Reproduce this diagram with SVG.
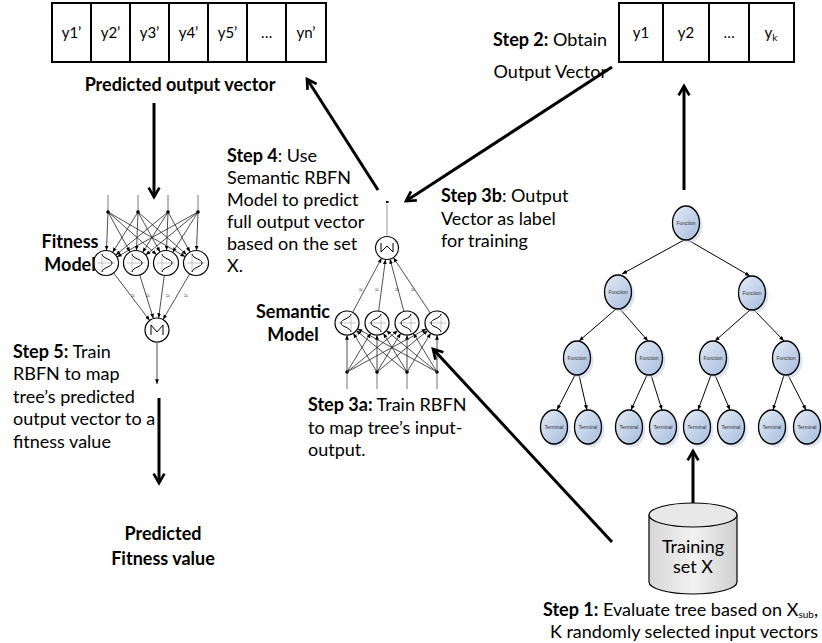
<svg xmlns="http://www.w3.org/2000/svg" width="822" height="643" viewBox="0 0 822 643">
<style>
  .t { font-family: Lato, "Liberation Sans", sans-serif; font-size: 18px; fill: #000; }
  .b { font-weight: bold; }
  .cell { fill: #fff; stroke: #000; stroke-width: 2; }
  .vt { font-family: Lato, "Liberation Sans", sans-serif; font-size: 15px; text-anchor: middle; }
  .thick { stroke: #000; stroke-width: 3; fill: none; marker-end: url(#bigArrow); }
  .thin { stroke: #222; stroke-width: 0.8; fill: none; marker-end: url(#smallArrow); }
  .thinplain { stroke: #555; stroke-width: 0.8; fill: none; }
  .neuron { fill: #fff; stroke: #000; stroke-width: 1.2; }
  .icon { fill: none; stroke: #000; stroke-width: 1; }
  .axis { fill: none; stroke: #888; stroke-width: 0.5; }
  .dot { fill: #000; }
  .wl { font-family: "Liberation Sans", sans-serif; font-size: 7px; text-anchor: middle; fill: #333; }
  .tn { fill: url(#nodeGrad); stroke: #000; stroke-width: 1.3; }
  .tsh { fill: #c8d4e8; opacity: 0.6; }
  .tl { font-family: "Liberation Sans", sans-serif; font-size: 5px; text-anchor: middle; fill: #333; }
  .te { stroke: #000; stroke-width: 1; fill: none; marker-end: url(#treeArrow); }
</style>
<defs>
  <marker id="bigArrow" viewBox="0 0 10 10" refX="8" refY="5" markerWidth="4.5" markerHeight="4.5" orient="auto" markerUnits="strokeWidth">
    <path d="M1,1 L8,5 L1,9" fill="none" stroke="#000" stroke-width="2"/>
  </marker>
  <marker id="smallArrow" viewBox="0 0 10 10" refX="10" refY="5" markerWidth="6" markerHeight="6" orient="auto" markerUnits="strokeWidth">
    <path d="M0,1 L10,5 L0,9 Z" fill="#000"/>
  </marker>
  <marker id="treeArrow" viewBox="0 0 10 10" refX="10" refY="5" markerWidth="5" markerHeight="5" orient="auto" markerUnits="strokeWidth">
    <path d="M0,1 L10,5 L0,9 Z" fill="#000"/>
  </marker>
  <linearGradient id="nodeGrad" x1="0" y1="0" x2="1" y2="1">
    <stop offset="0" stop-color="#e4ebf6"/>
    <stop offset="1" stop-color="#a6bcdd"/>
  </linearGradient>
  <linearGradient id="cylGrad" x1="0" y1="0" x2="1" y2="0">
    <stop offset="0" stop-color="#d6d6d6"/>
    <stop offset="0.5" stop-color="#f2f2f2"/>
    <stop offset="1" stop-color="#cfcfcf"/>
  </linearGradient>
</defs>

<!-- Predicted output vector -->
<g id="predicted-vector">
  <rect class="cell" x="52" y="3" width="39" height="59"/>
  <rect class="cell" x="91" y="3" width="39" height="59"/>
  <rect class="cell" x="130" y="3" width="39" height="59"/>
  <rect class="cell" x="169" y="3" width="39" height="59"/>
  <rect class="cell" x="208" y="3" width="39" height="59"/>
  <rect class="cell" x="247" y="3" width="39" height="59"/>
  <rect class="cell" x="286" y="3" width="40" height="59"/>
  <text class="vt" x="71.5" y="38">y1’</text>
  <text class="vt" x="110.5" y="38">y2’</text>
  <text class="vt" x="149.5" y="38">y3’</text>
  <text class="vt" x="188.5" y="38">y4’</text>
  <text class="vt" x="227.5" y="38">y5’</text>
  <text class="vt" x="266.5" y="38">…</text>
  <text class="vt" x="306" y="38">yn’</text>
  <text class="t b" x="180" y="91" text-anchor="middle" font-size="16">Predicted output vector</text>
</g>

<!-- Output vector -->
<g id="output-vector">
  <rect class="cell" x="619" y="3" width="44" height="59"/>
  <rect class="cell" x="663" y="3" width="46" height="59"/>
  <rect class="cell" x="709" y="3" width="40" height="59"/>
  <rect class="cell" x="749" y="3" width="45" height="59"/>
  <text class="vt" x="641" y="38">y1</text>
  <text class="vt" x="686" y="38">y2</text>
  <text class="vt" x="729" y="38">…</text>
  <text class="vt" x="771" y="38">y<tspan font-size="10" dy="3">k</tspan></text>
</g>

<g id="step2-label">
  <text class="t" x="607" y="46" text-anchor="end"><tspan class="b">Step 2:</tspan> Obtain</text>
  <text class="t" x="607" y="78" text-anchor="end">Output Vector</text>
</g>

<!-- Fitness model -->
<g id="fitness-model">
  <line class="thinplain" x1="108" y1="195" x2="108" y2="212"/>
  <line class="thinplain" x1="138" y1="195" x2="138" y2="212"/>
  <line class="thinplain" x1="168" y1="195" x2="168" y2="212"/>
  <line class="thinplain" x1="198" y1="195" x2="198" y2="212"/>
  <line class="thin" x1="108" y1="212" x2="106.5" y2="250.5"/>
  <line class="thin" x1="138" y1="212" x2="112.6" y2="252.4"/>
  <line class="thin" x1="168" y1="212" x2="115.7" y2="255.1"/>
  <line class="thin" x1="198" y1="212" x2="116.9" y2="256.9"/>
  <line class="thin" x1="108" y1="212" x2="130" y2="252"/>
  <line class="thin" x1="138" y1="212" x2="136.5" y2="250.5"/>
  <line class="thin" x1="168" y1="212" x2="142.6" y2="252.4"/>
  <line class="thin" x1="198" y1="212" x2="145.7" y2="255.1"/>
  <line class="thin" x1="108" y1="212" x2="156.6" y2="254.7"/>
  <line class="thin" x1="138" y1="212" x2="160" y2="252"/>
  <line class="thin" x1="168" y1="212" x2="166.5" y2="250.5"/>
  <line class="thin" x1="198" y1="212" x2="172.6" y2="252.4"/>
  <line class="thin" x1="108" y1="212" x2="185.2" y2="256.7"/>
  <line class="thin" x1="138" y1="212" x2="186.6" y2="254.7"/>
  <line class="thin" x1="168" y1="212" x2="190" y2="252"/>
  <line class="thin" x1="198" y1="212" x2="196.5" y2="250.5"/>
  <circle class="dot" cx="108" cy="212" r="1.8"/>
  <circle class="dot" cx="138" cy="212" r="1.8"/>
  <circle class="dot" cx="168" cy="212" r="1.8"/>
  <circle class="dot" cx="198" cy="212" r="1.8"/>
  <g>
    <circle class="neuron" cx="106" cy="263" r="12.5"/>
    <path class="axis" d="M97,263 H115 M102,254 V272"/>
    <path class="icon" d="M102,254 C103,259 112,259 112,263 C112,267 103,267 102,272"/>
  </g>
  <g>
    <circle class="neuron" cx="136" cy="263" r="12.5"/>
    <path class="axis" d="M127,263 H145 M132,254 V272"/>
    <path class="icon" d="M132,254 C133,259 142,259 142,263 C142,267 133,267 132,272"/>
  </g>
  <g>
    <circle class="neuron" cx="166" cy="263" r="12.5"/>
    <path class="axis" d="M157,263 H175 M162,254 V272"/>
    <path class="icon" d="M162,254 C163,259 172,259 172,263 C172,267 163,267 162,272"/>
  </g>
  <g>
    <circle class="neuron" cx="196" cy="263" r="12.5"/>
    <path class="axis" d="M187,263 H205 M192,254 V272"/>
    <path class="icon" d="M192,254 C193,259 202,259 202,263 C202,267 193,267 192,272"/>
  </g>
  <line class="thin" x1="113.6" y1="272.9" x2="149.7" y2="320.5"/>
  <line class="thin" x1="139.7" y1="274.9" x2="153.4" y2="318.5"/>
  <line class="thin" x1="164.3" y1="275.4" x2="158.6" y2="318.1"/>
  <line class="thin" x1="189.7" y1="273.8" x2="163" y2="319.6"/>
  <text class="wl" x="133" y="298">≈</text>
  <text class="wl" x="148" y="298">≈</text>
  <text class="wl" x="168" y="298">≈</text>
  <text class="wl" x="186" y="298">≈</text>
  <circle class="neuron" cx="157" cy="330" r="12"/>
  <path class="icon" d="M151,335 V325 L157,332 L163,325 V335"/>
  <line class="thin" x1="157" y1="342" x2="157" y2="384"/>
  <text class="t b" x="70" y="248" text-anchor="middle" font-size="16">Fitness</text>
  <text class="t b" x="70" y="271" text-anchor="middle" font-size="16">Model</text>
</g>

<!-- Semantic model -->
<g id="semantic-model">
  <line class="thinplain" x1="347" y1="372" x2="347" y2="389"/>
  <line class="thinplain" x1="377" y1="372" x2="377" y2="389"/>
  <line class="thinplain" x1="407" y1="372" x2="407" y2="389"/>
  <line class="thinplain" x1="437" y1="372" x2="437" y2="389"/>
  <line class="thin" x1="347" y1="372" x2="347" y2="335"/>
  <line class="thin" x1="377" y1="372" x2="353.3" y2="333.2"/>
  <line class="thin" x1="407" y1="372" x2="356.3" y2="330.6"/>
  <line class="thin" x1="437" y1="372" x2="357.6" y2="328.8"/>
  <line class="thin" x1="347" y1="372" x2="370.7" y2="333.2"/>
  <line class="thin" x1="377" y1="372" x2="377" y2="335"/>
  <line class="thin" x1="407" y1="372" x2="383.3" y2="333.2"/>
  <line class="thin" x1="437" y1="372" x2="386.3" y2="330.6"/>
  <line class="thin" x1="347" y1="372" x2="397.7" y2="330.6"/>
  <line class="thin" x1="377" y1="372" x2="400.7" y2="333.2"/>
  <line class="thin" x1="407" y1="372" x2="407" y2="335"/>
  <line class="thin" x1="437" y1="372" x2="413.3" y2="333.2"/>
  <line class="thin" x1="347" y1="372" x2="426.4" y2="328.8"/>
  <line class="thin" x1="377" y1="372" x2="427.7" y2="330.6"/>
  <line class="thin" x1="407" y1="372" x2="430.7" y2="333.2"/>
  <line class="thin" x1="437" y1="372" x2="437" y2="335"/>
  <circle class="dot" cx="347" cy="372" r="1.8"/>
  <circle class="dot" cx="377" cy="372" r="1.8"/>
  <circle class="dot" cx="407" cy="372" r="1.8"/>
  <circle class="dot" cx="437" cy="372" r="1.8"/>
  <g>
    <circle class="neuron" cx="347" cy="323" r="12"/>
    <path class="axis" d="M338,323 H356 M351,314 V332"/>
    <path class="icon" d="M351,314 C350,319 341,319 341,323 C341,327 350,327 351,332"/>
  </g>
  <g>
    <circle class="neuron" cx="377" cy="323" r="12"/>
    <path class="axis" d="M368,323 H386 M381,314 V332"/>
    <path class="icon" d="M381,314 C380,319 371,319 371,323 C371,327 380,327 381,332"/>
  </g>
  <g>
    <circle class="neuron" cx="407" cy="323" r="12"/>
    <path class="axis" d="M398,323 H416 M411,314 V332"/>
    <path class="icon" d="M411,314 C410,319 401,319 401,323 C401,327 410,327 411,332"/>
  </g>
  <g>
    <circle class="neuron" cx="437" cy="323" r="12"/>
    <path class="axis" d="M428,323 H446 M441,314 V332"/>
    <path class="icon" d="M441,314 C440,319 431,319 431,323 C431,327 440,327 441,332"/>
  </g>
  <line class="thin" x1="352.6" y1="312.4" x2="381.6" y2="258.1"/>
  <line class="thin" x1="378.6" y1="311.1" x2="385.5" y2="259.4"/>
  <line class="thin" x1="403.9" y1="311.4" x2="390" y2="259.1"/>
  <line class="thin" x1="430.3" y1="313" x2="393.4" y2="257.6"/>
  <text class="wl" x="361" y="292">≈</text>
  <text class="wl" x="377" y="292">≈</text>
  <text class="wl" x="397" y="292">≈</text>
  <text class="wl" x="413" y="292">≈</text>
  <circle class="neuron" cx="387" cy="248" r="11.5"/>
  <path class="icon" d="M381,243 V252 L387,246 L393,252 V243"/>
  <line x1="387" y1="236.5" x2="387" y2="204" stroke="#999" stroke-width="1"/>
  <rect x="386" y="201" width="2.5" height="2" fill="#000"/>
  <text class="t b" x="293" y="318" text-anchor="middle">Semantic</text>
  <text class="t b" x="293" y="341" text-anchor="middle">Model</text>
</g>

<!-- Tree -->
<g id="tree">
  <line class="te" x1="684" y1="240" x2="622" y2="274"/>
  <line class="te" x1="688" y1="240" x2="750" y2="276"/>
  <line class="te" x1="616" y1="309" x2="579" y2="341"/>
  <line class="te" x1="620" y1="309" x2="648" y2="341"/>
  <line class="te" x1="750" y1="310" x2="715" y2="341"/>
  <line class="te" x1="754" y1="310" x2="784" y2="341"/>
  <line class="te" x1="575" y1="375" x2="557" y2="410"/>
  <line class="te" x1="579" y1="375" x2="587" y2="410"/>
  <line class="te" x1="647" y1="375" x2="631" y2="410"/>
  <line class="te" x1="651" y1="375" x2="662" y2="410"/>
  <line class="te" x1="711" y1="375" x2="698" y2="410"/>
  <line class="te" x1="715" y1="375" x2="730" y2="410"/>
  <line class="te" x1="784" y1="375" x2="773" y2="410"/>
  <line class="te" x1="788" y1="375" x2="806" y2="410"/>
  <g id="t-root"><ellipse class="tsh" cx="689" cy="226" rx="13.5" ry="17"/><ellipse class="tn" cx="686" cy="223" rx="13.5" ry="17"/><text class="tl" x="686" y="225">Function</text></g>
  <g id="t-l"><ellipse class="tsh" cx="621" cy="295" rx="13.5" ry="17"/><ellipse class="tn" cx="618" cy="292" rx="13.5" ry="17"/><text class="tl" x="618" y="294">Function</text></g>
  <g id="t-r"><ellipse class="tsh" cx="755" cy="296" rx="13.5" ry="17"/><ellipse class="tn" cx="752" cy="293" rx="13.5" ry="17"/><text class="tl" x="752" y="295">Function</text></g>
  <g id="t-ll"><ellipse class="tsh" cx="580" cy="361" rx="13.5" ry="17"/><ellipse class="tn" cx="577" cy="358" rx="13.5" ry="17"/><text class="tl" x="577" y="360">Function</text></g>
  <g id="t-lr"><ellipse class="tsh" cx="652" cy="361" rx="13.5" ry="17"/><ellipse class="tn" cx="649" cy="358" rx="13.5" ry="17"/><text class="tl" x="649" y="360">Function</text></g>
  <g id="t-rl"><ellipse class="tsh" cx="716" cy="361" rx="13.5" ry="17"/><ellipse class="tn" cx="713" cy="358" rx="13.5" ry="17"/><text class="tl" x="713" y="360">Function</text></g>
  <g id="t-rr"><ellipse class="tsh" cx="789" cy="361" rx="13.5" ry="17"/><ellipse class="tn" cx="786" cy="358" rx="13.5" ry="17"/><text class="tl" x="786" y="360">Function</text></g>
  <g id="t-1"><ellipse class="tsh" cx="557" cy="430" rx="13.5" ry="17"/><ellipse class="tn" cx="554" cy="427" rx="13.5" ry="17"/><text class="tl" x="554" y="429">Terminal</text></g>
  <g id="t-2"><ellipse class="tsh" cx="591" cy="430" rx="13.5" ry="17"/><ellipse class="tn" cx="588" cy="427" rx="13.5" ry="17"/><text class="tl" x="588" y="429">Terminal</text></g>
  <g id="t-3"><ellipse class="tsh" cx="632" cy="430" rx="13.5" ry="17"/><ellipse class="tn" cx="629" cy="427" rx="13.5" ry="17"/><text class="tl" x="629" y="429">Terminal</text></g>
  <g id="t-4"><ellipse class="tsh" cx="666" cy="430" rx="13.5" ry="17"/><ellipse class="tn" cx="663" cy="427" rx="13.5" ry="17"/><text class="tl" x="663" y="429">Terminal</text></g>
  <g id="t-5"><ellipse class="tsh" cx="700" cy="430" rx="13.5" ry="17"/><ellipse class="tn" cx="697" cy="427" rx="13.5" ry="17"/><text class="tl" x="697" y="429">Terminal</text></g>
  <g id="t-6"><ellipse class="tsh" cx="734" cy="430" rx="13.5" ry="17"/><ellipse class="tn" cx="731" cy="427" rx="13.5" ry="17"/><text class="tl" x="731" y="429">Terminal</text></g>
  <g id="t-7"><ellipse class="tsh" cx="775" cy="430" rx="13.5" ry="17"/><ellipse class="tn" cx="772" cy="427" rx="13.5" ry="17"/><text class="tl" x="772" y="429">Terminal</text></g>
  <g id="t-8"><ellipse class="tsh" cx="810" cy="430" rx="13.5" ry="17"/><ellipse class="tn" cx="807" cy="427" rx="13.5" ry="17"/><text class="tl" x="807" y="429">Terminal</text></g>
</g>

<!-- Training set cylinder -->
<g id="training-set">
  <path d="M649,515 V582 A44,12 0 0 0 737,582 V515" fill="url(#cylGrad)" stroke="#000" stroke-width="1.2"/>
  <ellipse cx="693" cy="515" rx="44" ry="12" fill="#e8e8e8" stroke="#000" stroke-width="1.2"/>
  <text class="t" x="693" y="553" text-anchor="middle" font-size="17">Training</text>
  <text class="t" x="693" y="573" text-anchor="middle" font-size="17">set X</text>
</g>

<!-- Step labels -->
<g id="step1-label">
  <text class="t" x="818" y="616" text-anchor="end"><tspan class="b">Step 1:</tspan> Evaluate tree based on X<tspan font-size="10" dy="2">sub</tspan><tspan dy="-2">,</tspan></text>
  <text class="t" x="818" y="638" text-anchor="end">K randomly selected input vectors</text>
</g>
<g id="step3a-label">
  <text class="t" x="308" y="411"><tspan class="b">Step 3a:</tspan> Train RBFN</text>
  <text class="t" x="308" y="434">to map tree’s input-</text>
  <text class="t" x="308" y="456">output.</text>
</g>
<g id="step3b-label">
  <text class="t" x="441" y="202"><tspan class="b">Step 3b</tspan>: Output</text>
  <text class="t" x="441" y="225">Vector as label</text>
  <text class="t" x="441" y="247">for training</text>
</g>
<g id="step4-label">
  <text class="t" x="227" y="162"><tspan class="b">Step 4</tspan>:  Use</text>
  <text class="t" x="227" y="184">Semantic RBFN</text>
  <text class="t" x="227" y="206">Model to predict</text>
  <text class="t" x="227" y="228">full output vector</text>
  <text class="t" x="227" y="250">based on the set</text>
  <text class="t" x="227" y="272">X.</text>
</g>
<g id="step5-label">
  <text class="t" x="13" y="358"><tspan class="b">Step 5:</tspan> Train</text>
  <text class="t" x="13" y="380">RBFN to map</text>
  <text class="t" x="13" y="403">tree’s predicted</text>
  <text class="t" x="13" y="425">output vector to a</text>
  <text class="t" x="13" y="448">fitness value</text>
</g>
<g id="fitness-value">
  <text class="t b" x="163" y="540" text-anchor="middle" font-size="22">Predicted</text>
  <text class="t b" x="163" y="565" text-anchor="middle" font-size="22">Fitness value</text>
</g>

<!-- Connectors -->
<g id="connectors">
  <line class="thick" x1="154" y1="103" x2="154" y2="197"/>
  <line class="thick" x1="378" y1="190" x2="307" y2="79"/>
  <line class="thick" x1="612" y1="67" x2="406" y2="201"/>
  <line class="thick" x1="684" y1="190" x2="684" y2="86"/>
  <line class="thick" x1="693" y1="503" x2="693" y2="451"/>
  <line class="thick" x1="612" y1="542" x2="433" y2="349"/>
  <line class="thick" x1="159" y1="398" x2="159" y2="483"/>
</g>
</svg>
